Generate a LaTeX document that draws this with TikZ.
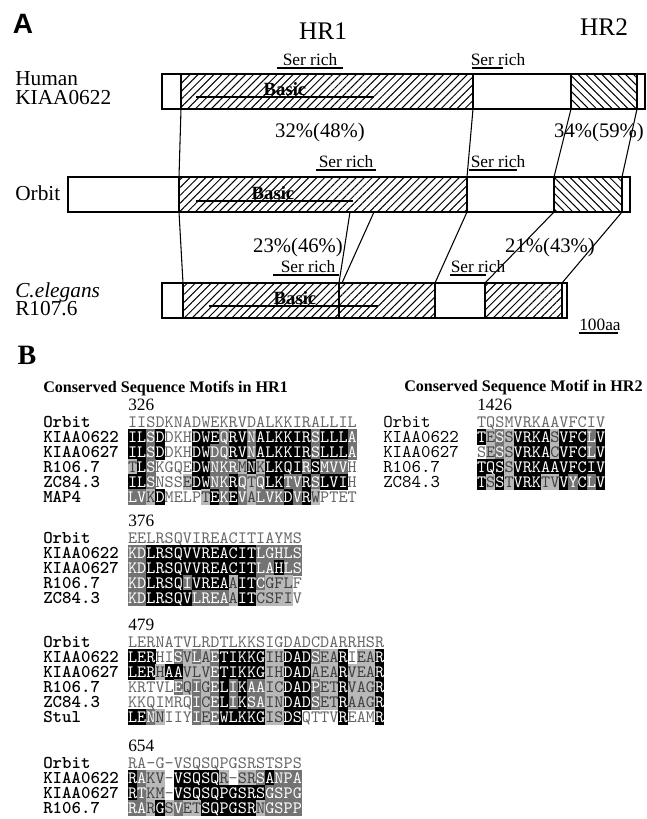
\documentclass[tikz,border=0pt]{standalone}
\usepackage{fontspec}
\setmainfont{Liberation Serif}
\setsansfont{Liberation Sans}
\setmonofont{lmmono10-regular.otf}[BoldFont=lmmonolt10-bold.otf]
\usetikzlibrary{patterns.meta}

% one shaded residue of an alignment row
\newcommand\rescell[4]{%
  \node[res#4] (#1-#2) at ({\seqx+(#2-1)*9.15},\seqy) {#3};}

\ExplSyntaxOn
\NewDocumentCommand \seqrow { m m m m m }
  {
    \def\seqx{#2}
    \def\seqy{#3}
    \int_step_inline:nn { \tl_count:n {#4} }
      {
        \use:e
          {
            \exp_not:N \rescell {#1} {##1}
              { \tl_item:nn {#4} {##1} } { \tl_item:nn {#5} {##1} }
          }
      }
  }
\ExplSyntaxOff

\begin{document}
\begin{tikzpicture}[x=0.75pt,y=-0.75pt,
    box/.style={line width=1.4pt},
    link/.style={line width=0.8pt},
    fhatch/.style={pattern={Lines[angle=45,distance=4.2pt,line width=0.75pt]}},
    bhatch/.style={pattern={Lines[angle=-45,distance=4.2pt,line width=0.75pt]}},
    sp/.style={anchor=base west,inner sep=0pt,font=\fontsize{16}{16}\selectfont},
    ser/.style={anchor=base,inner sep=0pt,font=\fontsize{13}{13}\selectfont},
    pct/.style={inner sep=0pt,font=\fontsize{15.5}{15.5}\selectfont},
    basic/.style={anchor=base,inner sep=0pt,font=\bfseries\fontsize{14}{14}\selectfont},
    uline/.style={line width=1.1pt},
    res/.style={inner sep=0pt,minimum width=6.95pt,minimum height=11.4pt,
      text height=7.5pt,text depth=0pt,font=\ttfamily\fontsize{13}{13}\selectfont},
    res0/.style={res,text=black!60},
    res1/.style={res,fill=black!28,text=black!75},
    res2/.style={res,fill=black!55,text=white},
    res3/.style={res,fill=black,text=white},
    hlab/.style={anchor=west,inner sep=0pt,text height=7.5pt,text depth=0pt,
      font=\ttfamily\bfseries\fontsize{13.5}{13.5}\selectfont},
    klab/.style={hlab,font=\ttfamily\fontsize{13.5}{13.5}\selectfont},
    num/.style={anchor=south west,inner sep=0pt,font=\fontsize{13}{13}\selectfont}]
\useasboundingbox (0,0) rectangle (647,819);

% ---------------- A
\node[font=\sffamily\bfseries\fontsize{21}{21}\selectfont] (pA) at (23,24) {A};
\node[font=\fontsize{19}{19}\selectfont] (hr1) at (323,31) {HR1};
\node[font=\fontsize{19}{19}\selectfont] (hr2) at (604,27) {HR2};

\node[sp] (hum) at (15,85) {Human};
\node[sp] (kia) at (15,104) {KIAA0622};
\node[sp] (orb) at (15,200) {Orbit};
\node[sp,font=\itshape\fontsize{16}{16}\selectfont] (cel) at (15,297) {C.elegans};
\node[sp] (rno) at (15,315) {R107.6};

% Human KIAA0622
\fill[fhatch] (181,74) rectangle (473,109);
\fill[bhatch] (571,74) rectangle (637,109);
\draw[box] (162,74) rectangle (645,109);
\draw[box] (181,74) -- (181,109) (473,74) -- (473,109)
  (571,74) -- (571,109) (637,74) -- (637,109);
\coordinate (hb1) at (181,109);
\coordinate (hb2) at (473,109);
\coordinate (hb3) at (571,109);
\coordinate (hb4) at (637,109);

% Orbit
\fill[fhatch] (179,177) rectangle (467,212);
\fill[bhatch] (554,177) rectangle (622,212);
\draw[box] (68,177) rectangle (630,212);
\draw[box] (179,177) -- (179,212) (467,177) -- (467,212)
  (554,177) -- (554,212) (622,177) -- (622,212);
\coordinate (ot1) at (179,177);
\coordinate (ot2) at (467,177);
\coordinate (ot3) at (554,177);
\coordinate (ot4) at (622,177);
\coordinate (ob1) at (179,212);
\coordinate (ob2) at (350,212);
\coordinate (ob3) at (374,212);
\coordinate (ob4) at (467,212);
\coordinate (ob5) at (554,212);
\coordinate (ob6) at (622,212);

% C.elegans R107.6
\fill[fhatch] (183,283) rectangle (435,318);
\fill[fhatch] (485,283) rectangle (562,318);
\draw[box] (162,283) rectangle (567,318);
\draw[box] (183,283) -- (183,318) (435,283) -- (435,318)
  (485,283) -- (485,318) (562,283) -- (562,318);
\draw[link] (339,283) -- (339,318);
\coordinate (ct1) at (183,283);
\coordinate (ct2) at (339,283);
\coordinate (ct3) at (342,283);
\coordinate (ct4) at (435,283);
\coordinate (ct5) at (485,283);
\coordinate (ct6) at (562,283);

% homology links
\draw[link] (hb1) -- (ot1);
\draw[link] (hb2) -- (ot2);
\draw[link] (hb3) -- (ot3);
\draw[link] (hb4) -- (ot4);
\draw[link] (ob1) -- (ct1);
\draw[link] (ob2) -- (ct2);
\draw[link] (ob3) -- (ct3);
\draw[link] (ob4) -- (ct4);
\draw[link] (ob5) -- (ct5);
\draw[link] (ob6) -- (ct6);

% Basic regions
\node[basic] (bh) at (285,95) {Basic};
\draw[uline] (196,97) -- (374,97);
\node[basic] (bo) at (273,199) {Basic};
\draw[uline] (196,201) -- (353,201);
\node[basic] (bc) at (295,304) {Basic};
\draw[uline] (209,306) -- (378,306);

% Ser rich
\node[ser] (sh1) at (310,65) {Ser rich};
\draw[uline] (277,68) -- (343,68);
\node[ser] (sh2) at (498,65) {Ser rich};
\draw[uline] (472,68) -- (503,68);
\node[ser] (so1) at (346,167) {Ser rich};
\draw[uline] (316,170) -- (376,170);
\node[ser] (so2) at (498,167) {Ser rich};
\draw[uline] (469,170) -- (517,170);
\node[ser] (sc1) at (308,272) {Ser rich};
\draw[uline] (273,275) -- (339,275);
\node[ser] (sc2) at (478,272) {Ser rich};
\draw[uline] (450,275) -- (486,275);

% identity (similarity)
\node[pct] (p1) at (320,133) {32\%(48\%)};
\node[pct] (p2) at (599,133) {34\%(59\%)};
\node[pct] (p3) at (298,248) {23\%(46\%)};
\node[pct] (p4) at (550,248) {21\%(43\%)};

\node[anchor=base west,inner sep=0pt,font=\fontsize{13}{13}\selectfont] (sc) at (579,330) {100aa};
\draw[uline] (579,333) -- (618,333);

% ---------------- B
\node[font=\bfseries\fontsize{21}{21}\selectfont] (pB) at (27,355) {B};
\node[anchor=west,inner sep=0pt,font=\bfseries\fontsize{12.1}{12.1}\selectfont] (t1) at (43,389) {Conserved Sequence Motifs in HR1};
\node[anchor=west,inner sep=0pt,font=\bfseries\fontsize{12.1}{12.1}\selectfont] (t2) at (404,388) {Conserved Sequence Motif in HR2};

% HR1, 326
\node[num] (n1) at (128,411) {326};
\foreach \nm [count=\i] in {Orbit,KIAA0622,KIAA0627,R106.7,ZC84.3,MAP4}
  \node[hlab] (la\i) at (43,{422+15*(\i-1)}) {\nm};
\seqrow{a1}{132.6}{422}{IISDKNADWEKRVDALKKIRALLIL}{0000000000000000000000000}
\seqrow{a2}{132.6}{437}{ILSDDKHDWEQRVNALKKIRSLLLA}{3323000333233233333323332}
\seqrow{a3}{132.6}{452}{ILSDDKHDWDQRVNALKKIRSLLLA}{3323000332233233333323332}
\seqrow{a4}{132.6}{467}{TLSKGQEDWNKRMNKLKQIRSMVVH}{1320000332221313333232220}
\seqrow{a5}{132.6}{482}{ILSNSSEDWNKRQTQLKTVRSLVIH}{3320001332232123322323330}
\seqrow{a6}{132.6}{497}{LVKDMELPTEKEVALVKDVRWPTET}{2213000013232122232310000}

% HR1, 376
\node[num] (n2) at (128,527) {376};
\foreach \nm [count=\i] in {Orbit,KIAA0622,KIAA0627,R106.7,ZC84.3}
  \node[hlab] (lb\i) at (43,{538+15*(\i-1)}) {\nm};
\seqrow{b1}{132.6}{538}{EELRSQVIREACITIAYMS}{0000000000000000000}
\seqrow{b2}{132.6}{553}{KDLRSQVVREACITLGHLS}{2233333333333322222}
\seqrow{b3}{132.6}{568}{KDLRSQVVREACITLAHLS}{2233333333333322322}
\seqrow{b4}{132.6}{583}{KDLRSQIVREAAITCGFLF}{2233332333313321110}
\seqrow{b5}{132.6}{598}{KDLRSQVLREAAITCSFIV}{2233333222213311110}

% HR1, 479
\node[num] (n3) at (128,631) {479};
\foreach \nm [count=\i] in {Orbit,KIAA0622,KIAA0627,R106.7,ZC84.3,Stul}
  \node[hlab] (lc\i) at (43,{642+15*(\i-1)}) {\nm};
\seqrow{c1}{132.6}{642}{LERNATVLRDTLKKSIGDADCDARRHSR}{0000000000000000000000000000}
\seqrow{c2}{132.6}{657}{LERHISVLAETIKKGIHDADSEARIEAR}{3330021212333331133321130113}
\seqrow{c3}{132.6}{672}{LERHAAVLVETIKKGIHDADAEARVEAR}{3331331112333331133311131113}
\seqrow{c4}{132.6}{687}{KRTVLEQIGELIKAAICDADPETRVAGR}{0000021212323221133321131113}
\seqrow{c5}{132.6}{702}{KKQIMRQICELIKSAINDADSETRAAGR}{0000000212323221133321131113}
\seqrow{c6}{132.6}{717}{LENNIIYIEEWLKKGISDSQTTVREAMR}{3321000212333331133000030003}

% HR1, 654
\node[num] (n4) at (128,752) {654};
\foreach \nm [count=\i] in {Orbit,KIAA0622,KIAA0627,R106.7}
  \node[hlab] (ld\i) at (43,{763+15*(\i-1)}) {\nm};
\seqrow{d1}{132.6}{763}{RA-G-VSQSQPGSRSTSPS}{0000000000000000000}
\seqrow{d2}{132.6}{778}{RAKV-VSQSQR-SRSANPA}{3211033333101123222}
\seqrow{d3}{132.6}{793}{RTKM-VSQSQPGSRSGSPG}{3211033333333332222}
\seqrow{d4}{132.6}{808}{RARGSVETSQPGSRNGSPP}{2213121133333312222}

% HR2, 1426
\node[num] (n5) at (477,411) {1426};
\foreach \nm [count=\i] in {Orbit,KIAA0622,KIAA0627,R106.7,ZC84.3}
  \node[klab] (le\i) at (383,{422+15*(\i-1)}) {\nm};
\seqrow{e1}{481.6}{422}{TQSMVRKAAVFCIV}{00000000000000}
\seqrow{e2}{481.6}{437}{TESSVRKASVFCLV}{31213333133323}
\seqrow{e3}{481.6}{452}{SESSVRKACVFCLV}{01213333133323}
\seqrow{e4}{481.6}{467}{TQSSVRKAAVFCIV}{33313333333333}
\seqrow{e5}{481.6}{482}{TSSTVRKTVVYCLV}{31313331132323}
\end{tikzpicture}
\end{document}
